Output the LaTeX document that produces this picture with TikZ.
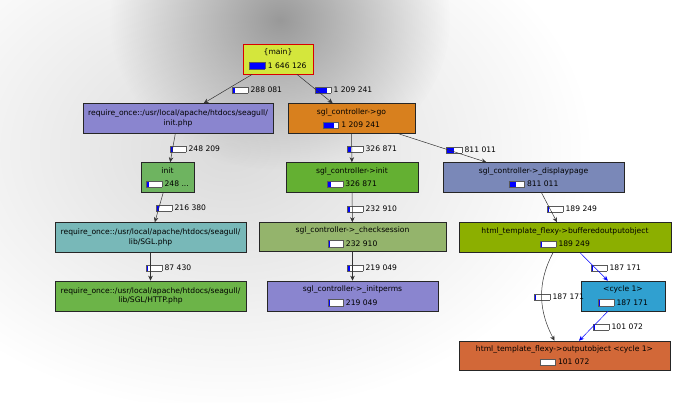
\documentclass[tikz,border=0pt]{standalone}
\usepackage{fontspec}
\newfontfamily\fnfont{DejaVu Sans}
\usetikzlibrary{arrows.meta,fadings}

% node colours
\definecolor{cmain}{RGB}{212,230,60}
\definecolor{cpurple}{RGB}{138,133,207}
\definecolor{corange}{RGB}{216,128,30}
\definecolor{cinit}{RGB}{110,180,96}
\definecolor{cgreen}{RGB}{100,176,50}
\definecolor{cslate}{RGB}{122,136,184}
\definecolor{cteal}{RGB}{120,184,184}
\definecolor{csage}{RGB}{148,180,108}
\definecolor{colive}{RGB}{140,175,0}
\definecolor{cleaf}{RGB}{108,180,72}
\definecolor{csky}{RGB}{48,160,208}
\definecolor{crust}{RGB}{210,104,56}

% background glow
\tikzfading[name=glow, inner color=transparent!0, outer color=transparent!100]

% small cost bar
\newdimen\barw \barw=15pt
\newcommand{\costbar}[1]{\raisebox{-0.5pt}{\begingroup\setlength{\fboxsep}{0pt}\setlength{\fboxrule}{0.5pt}%
  \fcolorbox{black!65}{white}{\makebox[\barw][l]{\textcolor{blue}{\rule{#1\barw}{6pt}}}}\endgroup}}

\begin{document}
\begin{tikzpicture}[x=1pt, y=-1pt,
    fn/.style={draw=black!85, line width=0.6pt, rectangle, minimum height=30pt, inner sep=0pt,
               align=center, font=\fnfont\fontsize{7.6}{9.3}\selectfont},
    lbl/.style={anchor=west, inner sep=0pt, font=\fnfont\fontsize{7.6}{9.3}\selectfont},
    call/.style={-{Stealth[length=5pt,width=4.5pt]}, line width=0.5pt, black!80},
    cyccall/.style={call, blue}]

    % Background
    \fill[white] (0,0) rectangle (690,402);
    \begin{scope}
        \clip (0,0) rectangle (690,402);
        \fill[black!14, path fading=glow] (230,150) ellipse [x radius=360, y radius=260];
        \fill[black!40, path fading=glow] (280,20) ellipse [x radius=170, y radius=150];
    \end{scope}
    \useasboundingbox (0,0) rectangle (690,402);

    % Draw the functions
    \node[fn, fill=cmain, draw=red!85!black, minimum width=70pt] (main) at (278,59) {\{main\}\\[4pt]\costbar{1}~1 646 126};
    \node[fn, fill=cpurple, minimum width=190pt] (reqinit) at (178,118.5) {require\_once::/usr/local/apache/htdocs/seagull/\\init.php};
    \node[fn, fill=corange, minimum width=127pt] (go) at (351.5,118.5) {sgl\_controller->go\\[4pt]\costbar{0.73}~1 209 241};
    \node[fn, fill=cinit, minimum width=53pt] (init) at (167.5,177.5) {init\\[4pt]\costbar{0.15}~248 ...};
    \node[fn, fill=cgreen, minimum width=132pt] (ctrlinit) at (352,177.5) {sgl\_controller->init\\[4pt]\costbar{0.2}~326 871};
    \node[fn, fill=cslate, minimum width=181pt] (disp) at (533.5,177.5) {sgl\_controller->\_displaypage\\[4pt]\costbar{0.49}~811 011};
    \node[fn, fill=cteal, minimum width=191pt] (reqsgl) at (150.5,237.5) {require\_once::/usr/local/apache/htdocs/seagull/\\lib/SGL.php};
    \node[fn, fill=csage, minimum width=187pt, minimum height=29pt] (check) at (352.5,237) {sgl\_controller->\_checksession\\[4pt]\costbar{0.14}~232 910};
    \node[fn, fill=colive, minimum width=212pt] (buff) at (565,237.5) {html\_template\_flexy->bufferedoutputobject\\[4pt]\costbar{0.115}~189 249};
    \node[fn, fill=cleaf, minimum width=191pt] (reqhttp) at (150.5,296) {require\_once::/usr/local/apache/htdocs/seagull/\\lib/SGL/HTTP.php};
    \node[fn, fill=cpurple, minimum width=171pt] (perms) at (352.5,296) {sgl\_controller->\_initperms\\[4pt]\costbar{0.133}~219 049};
    \node[fn, fill=csky, minimum width=84pt] (cyc) at (623,296) {<cycle 1>\\[4pt]\costbar{0.114}~187 171};
    \node[fn, fill=crust, minimum width=211pt, minimum height=29pt] (out) at (564.5,355.5) {html\_template\_flexy->outputobject <cycle 1>\\[4pt]\costbar{0.061}~101 072};

    % Call labels
    \node[lbl] (l1) at (232,90) {\costbar{0.175}~288 081};
    \node[lbl] (l2) at (315,90) {\costbar{0.73}~1 209 241};
    \node[lbl] (l3) at (170,149) {\costbar{0.15}~248 209};
    \node[lbl] (l4) at (347,149) {\costbar{0.2}~326 871};
    \node[lbl] (l5) at (446,150) {\costbar{0.49}~811 011};
    \node[lbl] (l6) at (156,208) {\costbar{0.13}~216 380};
    \node[lbl] (l7) at (347,209) {\costbar{0.14}~232 910};
    \node[lbl] (l8) at (547,209) {\costbar{0.115}~189 249};
    \node[lbl] (l9) at (146,268) {\costbar{0.053}~87 430};
    \node[lbl] (l10) at (347,268) {\costbar{0.133}~219 049};
    \node[lbl] (l11) at (591,268) {\costbar{0.114}~187 171};
    \node[lbl] (l12) at (534,297) {\costbar{0.114}~187 171};
    \node[lbl] (l13) at (593,327) {\costbar{0.061}~101 072};

    % Draw the calls
    \draw[call] (main) -- (reqinit);
    \draw[call] (main) -- (go);
    \draw[call] (reqinit) -- (init);
    \draw[call] (go) -- (ctrlinit);
    \draw[call] (go) -- (disp);
    \draw[call] (init) -- (reqsgl);
    \draw[call] (ctrlinit) -- (check);
    \draw[call] (disp) -- (buff);
    \draw[call] (reqsgl) -- (reqhttp);
    \draw[call] (check) -- (perms);
    \draw[cyccall] (buff) -- (cyc);
    \draw[call] ([xshift=-12pt]buff.south) .. controls +(-16,30) and +(-16,-30) .. ([xshift=-10pt]out.north);
    \draw[cyccall] (cyc) -- (out);
\end{tikzpicture}
\end{document}
